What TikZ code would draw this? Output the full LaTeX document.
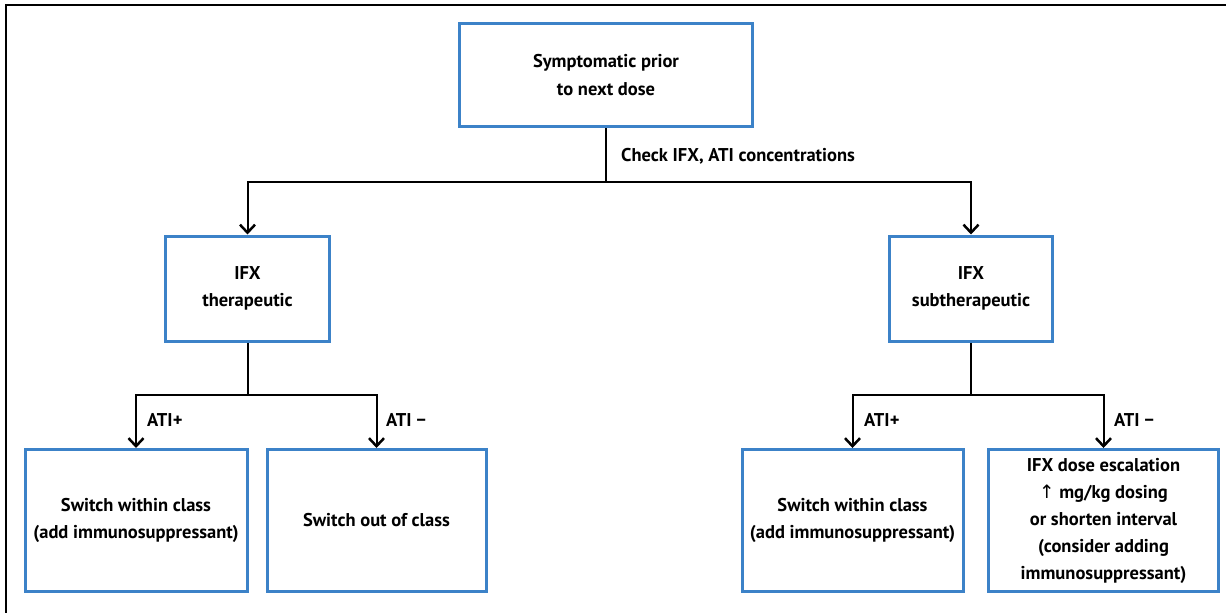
\documentclass[tikz,border=0pt]{standalone}
\usepackage{fontspec}
\setmainfont{PT Sans}
\newfontfamily\arrowfont{DejaVu Sans}
\usetikzlibrary{arrows.meta}
\definecolor{boxblue}{HTML}{3C82C8}
\begin{document}
\begin{tikzpicture}[x=1pt,y=-1pt,
  box/.style={draw=boxblue,line width=3pt,rectangle,inner sep=0pt,align=center,
    font=\fontsize{18.5}{27.5}\selectfont\bfseries},
  conn/.style={draw=black,line width=2pt},
  arr/.style={conn,-{Straight Barb[length=8pt,width=15pt,line width=2.5pt]}},
  lab/.style={anchor=west,inner sep=0pt,font=\fontsize{18.5}{22}\selectfont\bfseries}]
\useasboundingbox (0,0) rectangle (1226,613);
\draw[line width=1.5pt] (6,613) -- (6,5) -- (1226,5);

\node[box,minimum width=293pt,minimum height=103pt] (top) at (606,75) {Symptomatic prior\\to next dose};
\node[box,minimum width=164pt,minimum height=105pt] (midL) at (247.5,288.5) {IFX\\therapeutic};
\node[box,minimum width=163pt,minimum height=105pt] (midR) at (971,288.5) {IFX\\subtherapeutic};

\node[box,minimum width=222pt,minimum height=142pt] (b1) at (136,520.5) {Switch within class\\(add immunosuppressant)};
\node[box,minimum width=219pt,minimum height=142pt] (b2) at (376.5,520.5) {Switch out of class};
\node[box,minimum width=221pt,minimum height=142pt] (b3) at (852.5,520.5) {Switch within class\\(add immunosuppressant)};
\node[box,minimum width=230pt,minimum height=142pt,font=\fontsize{18.5}{27}\selectfont\bfseries] (b4) at (1103.5,520.5) {IFX dose escalation\\{\arrowfont\mdseries ↑} mg/kg dosing\\or shorten interval\\(consider adding\\immunosuppressant)};

\coordinate (j1) at (606,182);
\coordinate (j2) at (247.5,395);
\coordinate (j3) at (971,395);

\draw[conn] (top.south) -- (j1);
\draw[arr] (j1) -| (midL.north);
\draw[arr] (j1) -| (midR.north);
\draw[conn] (midL.south) -- (j2);
\draw[arr] (j2) -| (b1.north);
\draw[arr] (j2) -| (b2.north);
\draw[conn] (midR.south) -- (j3);
\draw[arr] (j3) -| (b3.north);
\draw[arr] (j3) -| (b4.north);

\node[lab] (lc) at (621,156) {Check IFX, ATI concentrations};
\node[lab] (l1) at (147,420) {ATI+};
\node[lab] (l2) at (386,420) {ATI −};
\node[lab] (l3) at (864,420) {ATI+};
\node[lab] (l4) at (1114,420) {ATI −};
\end{tikzpicture}
\end{document}
